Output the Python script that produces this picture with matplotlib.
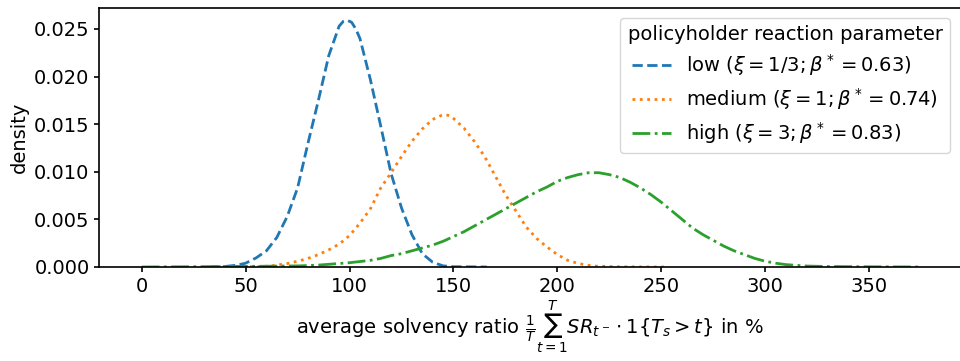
import numpy as np
import matplotlib
matplotlib.use('Agg')
import matplotlib.pyplot as plt

# valeurs (densités estimées)
x_low = [33, 40, 46, 50, 55, 60, 65, 70, 75, 80, 85, 90, 95, 97, 99, 101, 103, 105,
         110, 115, 120, 125, 130, 135, 140, 145, 150, 166]
y_low = [0.0, 0.00005, 0.0002, 0.0004, 0.00095, 0.0017, 0.0031, 0.0053, 0.0083, 0.0130,
         0.0175, 0.0222, 0.0253, 0.0258, 0.0259, 0.0257, 0.0250, 0.0240,
         0.0197, 0.0148, 0.0098, 0.0062, 0.0034, 0.0014, 0.0005, 0.00012, 0.00003, 0.0]

x_med = [45, 57, 62, 70, 76, 80, 85, 90, 95, 100, 105, 110, 115, 120, 125, 130, 135, 140,
         144, 146, 148, 150, 155, 160, 165, 170, 175, 180, 185, 190, 195, 200, 205,
         210, 217, 230, 252]
y_med = [0.0, 0.00005, 0.0001, 0.00036, 0.00066, 0.0009, 0.0013, 0.0018, 0.0024, 0.0033,
         0.0046, 0.0061, 0.0083, 0.0099, 0.0116, 0.0132, 0.0145, 0.0155,
         0.0159, 0.0160, 0.0159, 0.0156, 0.0146, 0.0132, 0.0116, 0.0096, 0.0076, 0.0059,
         0.0042, 0.0030, 0.0021, 0.0013, 0.0007, 0.00037, 0.0001, 0.00002, 0.0]

x_high = [0, 20, 40, 60, 76, 85, 100, 110, 115, 120, 125, 130, 135, 140, 145, 150, 155,
          160, 165, 170, 175, 180, 185, 190, 195, 200, 205, 210, 215, 220, 225, 230,
          235, 240, 245, 250, 255, 260, 265, 270, 275, 280, 285, 290, 295, 300, 305,
          310, 320, 330, 350, 375]
y_high = [0.0, 0.00002, 0.00005, 0.00008, 0.00012, 0.0002, 0.00045, 0.0007, 0.0009, 0.0012,
          0.0014, 0.0017, 0.0020, 0.0023, 0.0027, 0.0032, 0.0037,
          0.0043, 0.0049, 0.0055, 0.0061, 0.0067, 0.0073, 0.0079, 0.0084, 0.0090, 0.0094,
          0.0097, 0.0099, 0.0099, 0.0097, 0.0094,
          0.0089, 0.0083, 0.0076, 0.0068, 0.0059, 0.0050, 0.0041, 0.0034, 0.0028, 0.0022,
          0.0017, 0.0013, 0.0009, 0.0006, 0.0004,
          0.00025, 0.0001, 0.00005, 0.00002, 0.0]

labels = [r'low $(\xi=1/3; \beta^*=0.63)$',
          r'medium $(\xi=1; \beta^*=0.74)$',
          r'high $(\xi=3; \beta^*=0.83)$']
xticks = [0, 50, 100, 150, 200, 250, 300, 350]

plt.rcParams['font.size'] = 14
plt.rcParams['axes.linewidth'] = 1.2

fig = plt.figure(figsize=(9.6, 3.61), dpi=100)
ax = fig.add_axes([99.3/960, 1 - 267/361, 1 - 99.3/960, (267 - 8)/361])

ax.plot(x_low, y_low, linestyle='--', color='#1f77b4', lw=2, label=labels[0])
ax.plot(x_med, y_med, linestyle=':', color='#ff7f0e', lw=2, label=labels[1])
ax.plot(x_high, y_high, linestyle='-.', color='#2ca02c', lw=2, label=labels[2])

ax.set_xlim(-20.4, 393.7)
ax.set_ylim(0, 0.0272)
ax.set_xticks(xticks)
ax.set_yticks([0, 0.005, 0.01, 0.015, 0.02, 0.025])
ax.set_yticklabels(['0.000', '0.005', '0.010', '0.015', '0.020', '0.025'])
ax.spines['right'].set_visible(False)
ax.tick_params(width=1.2)

ax.set_ylabel('density')
ax.set_xlabel(r'average solvency ratio $\frac{1}{T}\sum_{t=1}^{T} SR_{t^-} \cdot 1\{T_s > t\}$ in %',
              labelpad=2)
ax.legend(title='policyholder reaction parameter', loc='upper right',
          labelspacing=0.4)

fig.savefig('out.png', dpi=100)
